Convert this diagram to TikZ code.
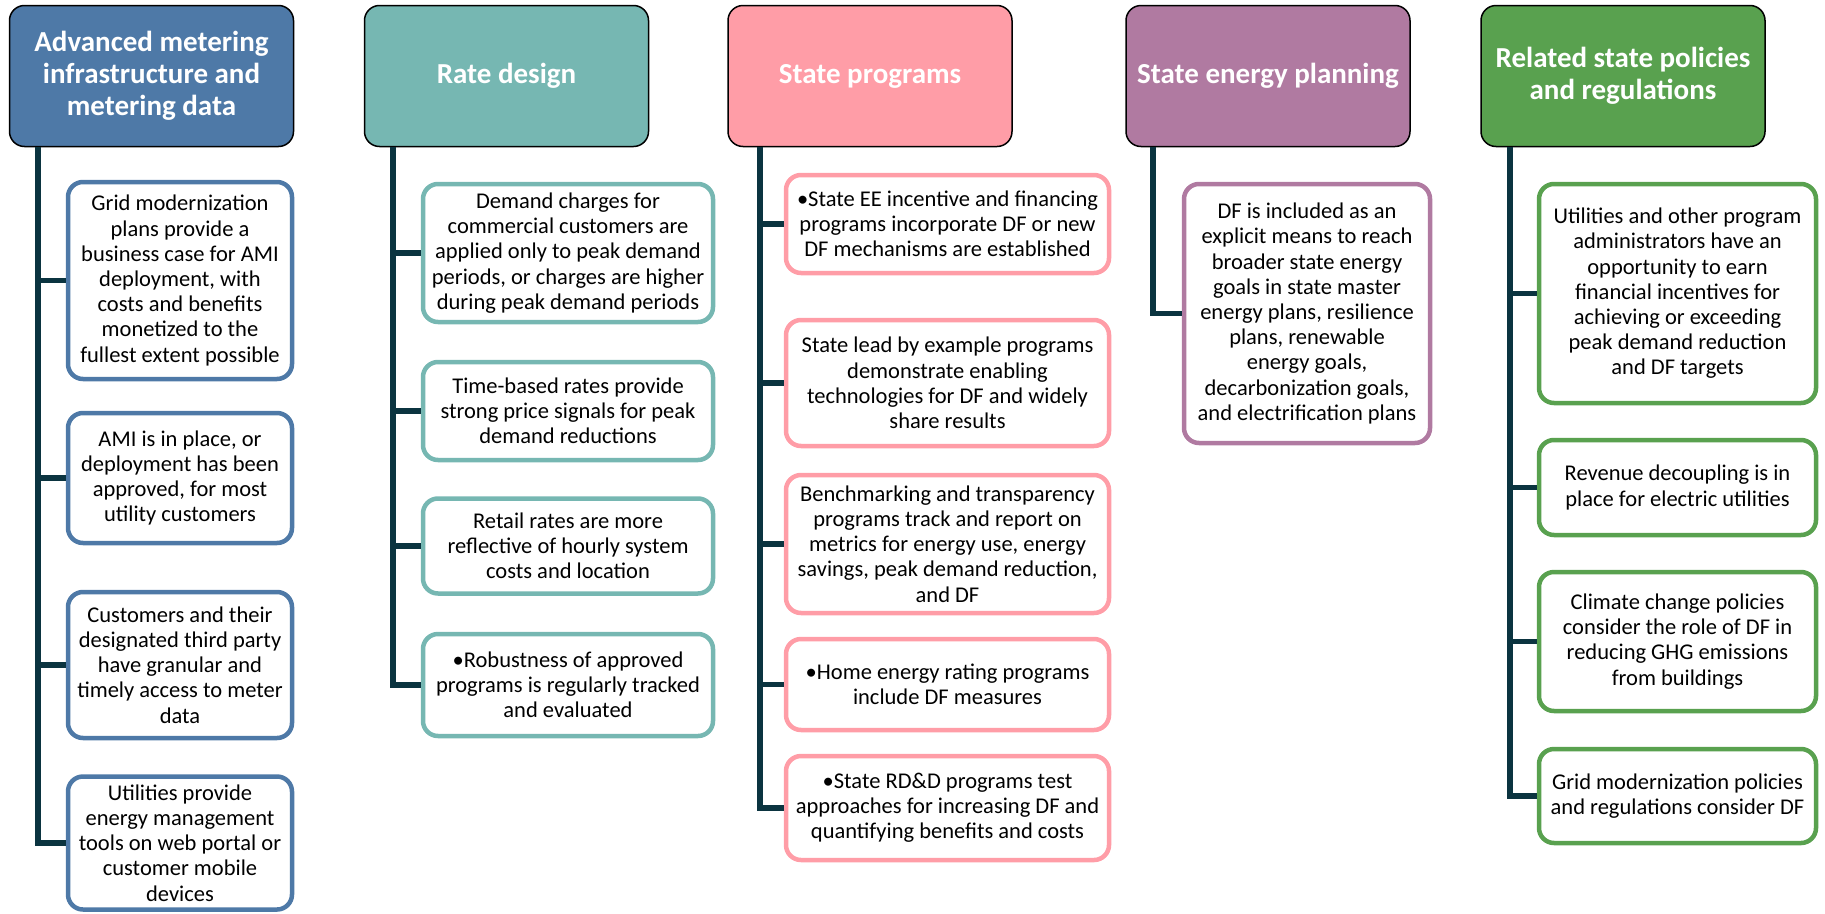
\documentclass[tikz,border=0pt]{standalone}
\usepackage{fontspec}
\setmainfont{Carlito}
\definecolor{cblue}{HTML}{4E79A7}
\definecolor{cteal}{HTML}{76B7B2}
\definecolor{cpink}{HTML}{FF9DA7}
\definecolor{cpurple}{HTML}{B07AA1}
\definecolor{cgreen}{HTML}{59A14F}
\definecolor{ctrunk}{HTML}{0B3440}
\tikzset{
  hdr/.style={draw=black, line width=1.5pt, rounded corners=15pt, fill=#1,
    text=white, font=\fontsize{29}{32}\selectfont\bfseries, align=center,
    minimum width=284pt, minimum height=141pt, inner sep=0pt},
  item/.style={draw=#1, line width=4.5pt, rounded corners=15pt, fill=white,
    text=black, font=\fontsize{22.5}{25.2}\selectfont, align=center, inner sep=0pt},
  trunk/.style={draw=ctrunk, line width=5.5pt}
}
\begin{document}
\begin{tikzpicture}[x=1pt,y=-1pt]
\useasboundingbox (0,0) rectangle (1825,913);
% headers
\node[hdr=cblue] (h1) at (151.5,76) {Advanced metering\\infrastructure and\\metering data};
\node[hdr=cteal] (h2) at (506.5,76) {Rate design};
\node[hdr=cpink] (h3) at (870,76) {State programs};
\node[hdr=cpurple] (h4) at (1268,76) {State energy planning};
\node[hdr=cgreen] (h5) at (1623,76) {Related state policies\\and regulations};
% column 1
\begin{scope}[every node/.append style={item=cblue, minimum width=224pt}]
\node[minimum height=197pt] (b11) at (180,280.5) {Grid modernization\\plans provide a\\business case for AMI\\deployment, with\\costs and benefits\\monetized to the\\fullest extent possible};
\node[minimum height=130pt] (b12) at (180,478) {AMI is in place, or\\deployment has been\\approved, for most\\utility customers};
\node[minimum height=146pt] (b13) at (180,665) {Customers and their\\designated third party\\have granular and\\timely access to meter\\data};
\node[minimum height=133pt] (b14) at (180,843) {Utilities provide\\energy management\\tools on web portal or\\customer mobile\\devices};
\end{scope}
% column 2
\begin{scope}[every node/.append style={item=cteal, minimum width=290pt}]
\node[minimum height=138pt] (b21) at (568,253) {Demand charges for\\commercial customers are\\applied only to peak demand\\periods, or charges are higher\\during peak demand periods};
\node[minimum height=98pt] (b22) at (568,411) {Time-based rates provide\\strong price signals for peak\\demand reductions};
\node[minimum height=95pt] (b23) at (568,546) {Retail rates are more\\reflective of hourly system\\costs and location};
\node[minimum height=102pt] (b24) at (568,685) {•Robustness of approved\\programs is regularly tracked\\and evaluated};
\end{scope}
% column 3
\begin{scope}[every node/.append style={item=cpink, minimum width=323pt}]
\node[minimum height=98pt] (b31) at (947.5,224) {•State EE incentive and financing\\programs incorporate DF or new\\DF mechanisms are established};
\node[minimum height=126pt] (b32) at (947.5,383) {State lead by example programs\\demonstrate enabling\\technologies for DF and widely\\share results};
\node[minimum height=138pt] (b33) at (947.5,544) {Benchmarking and transparency\\programs track and report on\\metrics for energy use, energy\\savings, peak demand reduction,\\and DF};
\node[minimum height=91pt] (b34) at (947.5,684.5) {•Home energy rating programs\\include DF measures};
\node[minimum height=104pt] (b35) at (947.5,808) {•State RD\&D programs test\\approaches for increasing DF and\\quantifying benefits and costs};
\end{scope}
% column 4
\node[item=cpurple, minimum width=246pt, minimum height=259pt] (b41) at (1307,313.5) {DF is included as an\\explicit means to reach\\broader state energy\\goals in state master\\energy plans, resilience\\plans, renewable\\energy goals,\\decarbonization goals,\\and electrification plans};
% column 5
\begin{scope}[every node/.append style={item=cgreen, minimum width=277pt}]
\node[minimum height=219pt] (b51) at (1677.5,293.5) {Utilities and other program\\administrators have an\\opportunity to earn\\financial incentives for\\achieving or exceeding\\peak demand reduction\\and DF targets};
\node[minimum height=95pt] (b52) at (1677.5,487.5) {Revenue decoupling is in\\place for electric utilities};
\node[minimum height=139pt] (b53) at (1677.5,641.5) {Climate change policies\\consider the role of DF in\\reducing GHG emissions\\from buildings};
\node[minimum height=94pt] (b54) at (1677.5,796) {Grid modernization policies\\and regulations consider DF};
\end{scope}
% trunk coordinates
\coordinate (t1) at (38,147);
\coordinate (t2) at (393,147);
\coordinate (t3) at (760,147);
\coordinate (t4) at (1153,147);
\coordinate (t5) at (1510,147);
% trunks
\draw[trunk] (t1) |- (b14.west);
\foreach \b in {b11,b12,b13} \draw[trunk] (\b.west) -- (\b.west -| t1);
\draw[trunk] (t2) |- (b24.west);
\foreach \b in {b21,b22,b23} \draw[trunk] (\b.west) -- (\b.west -| t2);
\draw[trunk] (t3) |- (b35.west);
\foreach \b in {b31,b32,b33,b34} \draw[trunk] (\b.west) -- (\b.west -| t3);
\draw[trunk] (t4) |- (b41.west);
\draw[trunk] (t5) |- (b54.west);
\foreach \b in {b51,b52,b53} \draw[trunk] (\b.west) -- (\b.west -| t5);
\end{tikzpicture}
\end{document}
